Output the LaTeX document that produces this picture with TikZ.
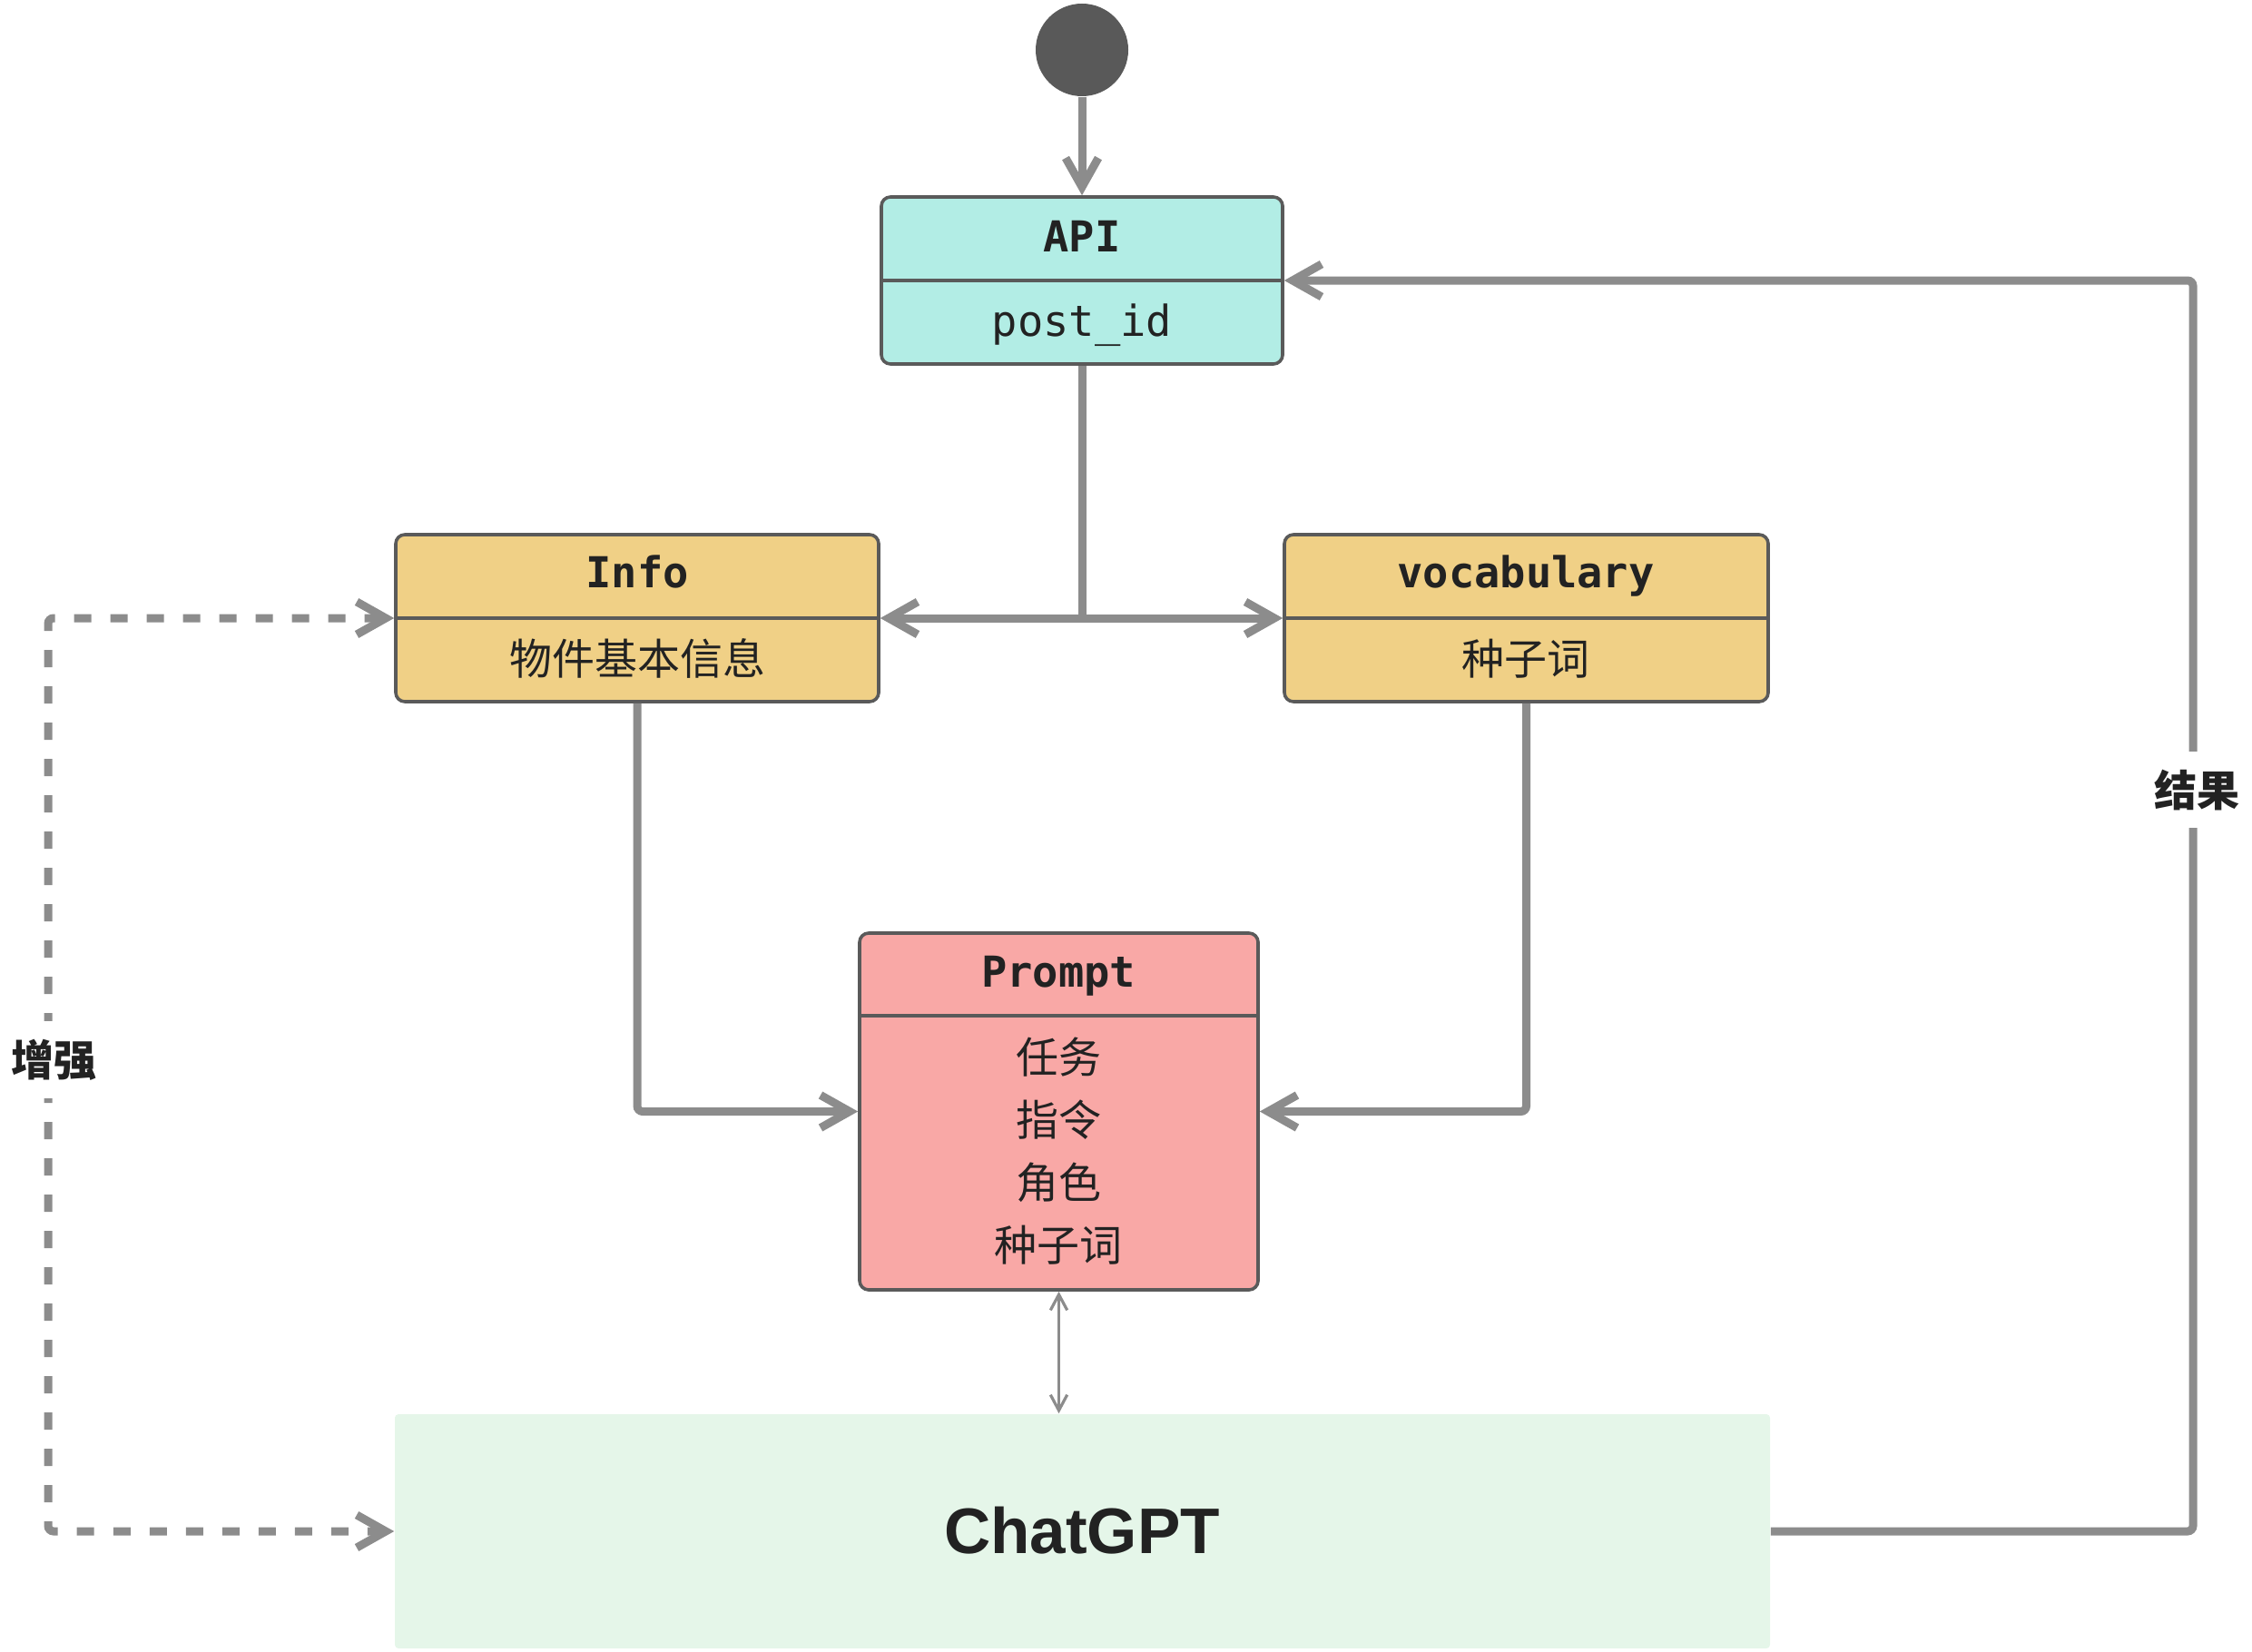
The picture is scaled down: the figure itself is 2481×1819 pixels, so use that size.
\documentclass[tikz,border=0pt]{standalone}
\usepackage{fontspec}
\setmonofont{DejaVu Sans Mono}
\newfontfamily\cjk{Noto Sans CJK SC}
\newfontfamily\gptfont{Liberation Sans}
\usetikzlibrary{arrows.meta,fit}
\definecolor{bordc}{HTML}{5A5A5A}
\definecolor{linec}{HTML}{8C8C8C}
\definecolor{circc}{HTML}{595959}
\definecolor{txtc}{HTML}{222222}
\definecolor{apic}{HTML}{B2EDE5}
\definecolor{infoc}{HTML}{F0D086}
\definecolor{promptc}{HTML}{F9A8A6}
\definecolor{gptc}{HTML}{E5F6E9}
\begin{document}
\begin{tikzpicture}[x=0.25pt,y=-0.25pt,
  box/.style={draw=bordc, line width=0.9pt, rounded corners=2.5pt, inner sep=0pt, rectangle},
  divline/.style={draw=bordc, line width=0.9pt},
  conn/.style={draw=linec, line width=2.25pt, -{Straight Barb[length=8pt,width=9pt]}},
  plain/.style={draw=linec, line width=2.25pt},
  dconn/.style={draw=linec, line width=2.25pt, dash pattern=on 4.75pt off 5.25pt, rounded corners=1.5pt, {Straight Barb[length=8pt,width=9pt]}-{Straight Barb[length=8pt,width=9pt]}},
  thinconn/.style={draw=linec, line width=0.8pt, {Straight Barb[length=4.3pt,width=4.6pt]}-{Straight Barb[length=4.3pt,width=4.6pt]}},
  ttl/.style={font=\fontsize{11.75}{14}\selectfont\ttfamily\bfseries, text=txtc, anchor=base, inner sep=0pt},
  mono/.style={font=\fontsize{11.75}{14}\selectfont\ttfamily, text=txtc, anchor=base, inner sep=0pt},
  zh/.style={font=\fontsize{11.75}{14}\selectfont\cjk, text=txtc, anchor=base, inner sep=0pt},
  zhb/.style={font=\fontsize{11.75}{14}\selectfont\cjk\bfseries, text=txtc, anchor=base, fill=white, inner xsep=1pt, inner ysep=5pt},
]
\useasboundingbox (0,0) rectangle (2481,1819);

% boxes
\node[box, fill=apic, fit={(971,217)(1413,401)}] (api) {};
\node[box, fill=infoc, fit={(436,589)(968,773)}] (info) {};
\node[box, fill=infoc, fit={(1415,589)(1948,773)}] (vocab) {};
\node[box, fill=promptc, fit={(947,1028)(1386,1421)}] (prompt) {};
\node[rectangle, fill=gptc, draw=none, rounded corners=1pt, inner sep=0pt, fit={(435,1558)(1950,1816)}] (gpt) {};
\node[circle, fill=circc, minimum size=25.5pt, inner sep=0pt] (start) at (1192,55) {};

% dividers
\coordinate (pdiv) at (0,1119);
\draw[divline] (api.west) -- (api.east);
\draw[divline] (info.west) -- (info.east);
\draw[divline] (vocab.west) -- (vocab.east);
\draw[divline] (prompt.west |- pdiv) -- (prompt.east |- pdiv);

% texts
\node[ttl] (apit) at (1192,277) {API};
\node[mono] (apib) at (1192,370) {post\_id};
\node[ttl] (infot) at (702,647) {Info};
\node[zh] (infob) at (702,743) {物件基本信息};
\node[ttl] (vocabt) at (1681,647) {vocabulary};
\node[zh] (vocabb) at (1681,743) {种子词};
\node[ttl] (promptt) at (1166,1087) {Prompt};
\node[zh] (p1) at (1166,1182) {任务};
\node[zh] (p2) at (1166,1251) {指令};
\node[zh] (p3) at (1166,1320) {角色};
\node[zh] (p4) at (1166,1389) {种子词};
\node[font=\fontsize{17.75}{20}\selectfont\gptfont\bfseries, text=txtc, anchor=base, inner sep=0pt] (gptt) at (1192,1711) {ChatGPT};

% connectors
\coordinate (split) at (api.south |- info.east);
\coordinate (rc) at (2416,0);
\coordinate (lc) at (53,0);
\draw[conn] (start.south) -- (api.north);
\draw[plain] (api.south) -- (split);
\draw[conn] (split) -- (info.east);
\draw[conn] (split) -- (vocab.west);
\draw[conn, rounded corners=1.5pt] (info.south) |- (prompt.west);
\draw[conn, rounded corners=1.5pt] (vocab.south) |- (prompt.east);
\draw[thinconn] (prompt.south) -- (prompt.south |- gpt.north);
\draw[conn, rounded corners=1.5pt] (gpt.east) -- (gpt.east -| rc) -- (api.east -| rc) -- (api.east);
\draw[dconn] (info.west) -- (info.west -| lc) -- (gpt.west -| lc) -- (gpt.west);

% labels
\node[zhb] (lbl1) at (59,1185) {增强};
\node[zhb] (lbl2) at (2420,888) {结果};
\end{tikzpicture}
\end{document}
